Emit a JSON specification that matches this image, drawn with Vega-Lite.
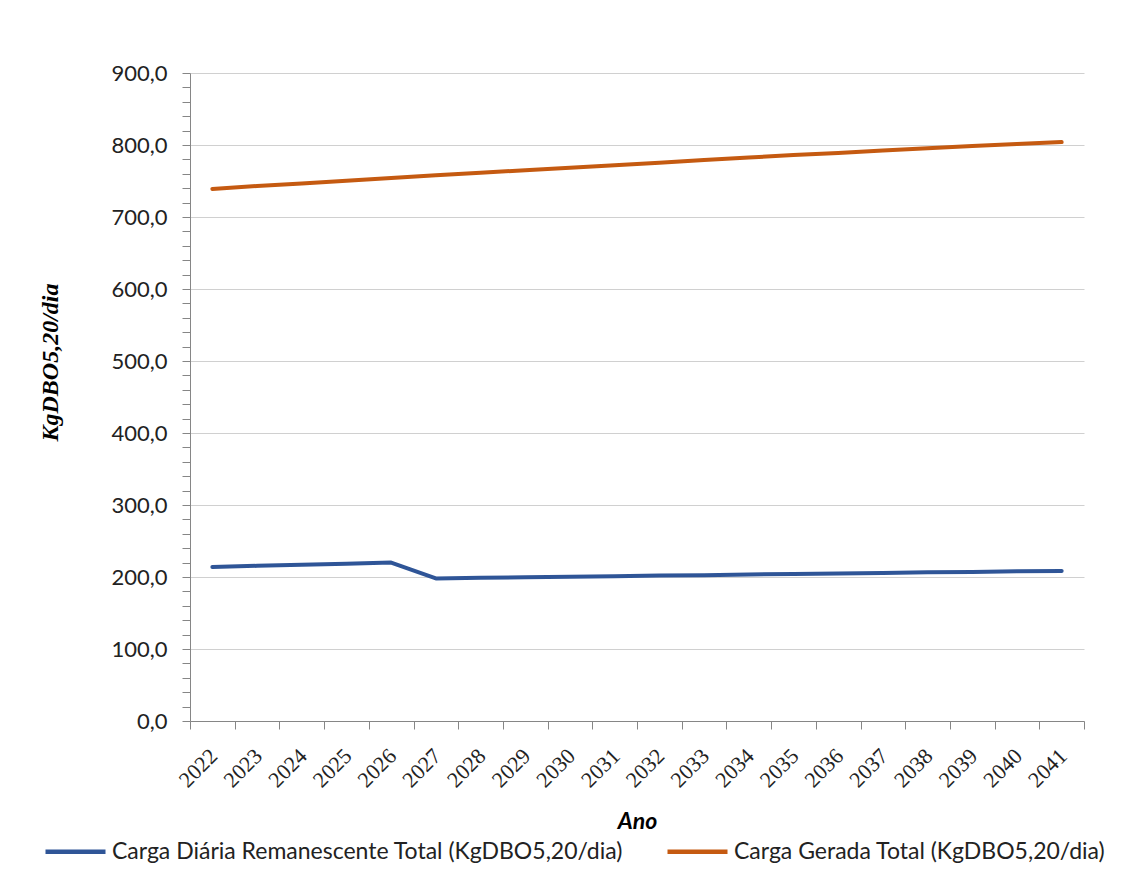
{
  "$schema": "https://vega.github.io/schema/vega-lite/v6.json",
  "width": 894,
  "height": 648,
  "autosize": {"type": "none"},
  "padding": {"left": 190, "top": 73, "right": 48, "bottom": 166},
  "background": "white",
  "config": {
    "view": {"stroke": null},
    "font": "Lato"
  },
  "data": {
    "values": [
      {"ano": "2022", "serie": "Carga Diária Remanescente Total (KgDBO5,20/dia)", "valor": 214.0},
      {"ano": "2023", "serie": "Carga Diária Remanescente Total (KgDBO5,20/dia)", "valor": 215.5},
      {"ano": "2024", "serie": "Carga Diária Remanescente Total (KgDBO5,20/dia)", "valor": 217.0},
      {"ano": "2025", "serie": "Carga Diária Remanescente Total (KgDBO5,20/dia)", "valor": 218.5},
      {"ano": "2026", "serie": "Carga Diária Remanescente Total (KgDBO5,20/dia)", "valor": 220.0},
      {"ano": "2027", "serie": "Carga Diária Remanescente Total (KgDBO5,20/dia)", "valor": 198.0},
      {"ano": "2028", "serie": "Carga Diária Remanescente Total (KgDBO5,20/dia)", "valor": 199.0},
      {"ano": "2029", "serie": "Carga Diária Remanescente Total (KgDBO5,20/dia)", "valor": 199.5},
      {"ano": "2030", "serie": "Carga Diária Remanescente Total (KgDBO5,20/dia)", "valor": 200.5},
      {"ano": "2031", "serie": "Carga Diária Remanescente Total (KgDBO5,20/dia)", "valor": 201.0},
      {"ano": "2032", "serie": "Carga Diária Remanescente Total (KgDBO5,20/dia)", "valor": 202.0},
      {"ano": "2033", "serie": "Carga Diária Remanescente Total (KgDBO5,20/dia)", "valor": 202.5},
      {"ano": "2034", "serie": "Carga Diária Remanescente Total (KgDBO5,20/dia)", "valor": 203.5},
      {"ano": "2035", "serie": "Carga Diária Remanescente Total (KgDBO5,20/dia)", "valor": 204.0},
      {"ano": "2036", "serie": "Carga Diária Remanescente Total (KgDBO5,20/dia)", "valor": 205.0},
      {"ano": "2037", "serie": "Carga Diária Remanescente Total (KgDBO5,20/dia)", "valor": 205.5},
      {"ano": "2038", "serie": "Carga Diária Remanescente Total (KgDBO5,20/dia)", "valor": 206.5},
      {"ano": "2039", "serie": "Carga Diária Remanescente Total (KgDBO5,20/dia)", "valor": 207.0},
      {"ano": "2040", "serie": "Carga Diária Remanescente Total (KgDBO5,20/dia)", "valor": 208.0},
      {"ano": "2041", "serie": "Carga Diária Remanescente Total (KgDBO5,20/dia)", "valor": 208.5},
      {"ano": "2022", "serie": "Carga Gerada Total (KgDBO5,20/dia)", "valor": 739.0},
      {"ano": "2023", "serie": "Carga Gerada Total (KgDBO5,20/dia)", "valor": 743.0},
      {"ano": "2024", "serie": "Carga Gerada Total (KgDBO5,20/dia)", "valor": 746.5},
      {"ano": "2025", "serie": "Carga Gerada Total (KgDBO5,20/dia)", "valor": 750.5},
      {"ano": "2026", "serie": "Carga Gerada Total (KgDBO5,20/dia)", "valor": 754.0},
      {"ano": "2027", "serie": "Carga Gerada Total (KgDBO5,20/dia)", "valor": 758.0},
      {"ano": "2028", "serie": "Carga Gerada Total (KgDBO5,20/dia)", "valor": 761.5},
      {"ano": "2029", "serie": "Carga Gerada Total (KgDBO5,20/dia)", "valor": 765.0},
      {"ano": "2030", "serie": "Carga Gerada Total (KgDBO5,20/dia)", "valor": 768.5},
      {"ano": "2031", "serie": "Carga Gerada Total (KgDBO5,20/dia)", "valor": 772.0},
      {"ano": "2032", "serie": "Carga Gerada Total (KgDBO5,20/dia)", "valor": 775.5},
      {"ano": "2033", "serie": "Carga Gerada Total (KgDBO5,20/dia)", "valor": 779.0},
      {"ano": "2034", "serie": "Carga Gerada Total (KgDBO5,20/dia)", "valor": 782.5},
      {"ano": "2035", "serie": "Carga Gerada Total (KgDBO5,20/dia)", "valor": 786.0},
      {"ano": "2036", "serie": "Carga Gerada Total (KgDBO5,20/dia)", "valor": 789.0},
      {"ano": "2037", "serie": "Carga Gerada Total (KgDBO5,20/dia)", "valor": 792.5},
      {"ano": "2038", "serie": "Carga Gerada Total (KgDBO5,20/dia)", "valor": 795.5},
      {"ano": "2039", "serie": "Carga Gerada Total (KgDBO5,20/dia)", "valor": 798.5},
      {"ano": "2040", "serie": "Carga Gerada Total (KgDBO5,20/dia)", "valor": 801.5},
      {"ano": "2041", "serie": "Carga Gerada Total (KgDBO5,20/dia)", "valor": 804.0}
    ]
  },
  "mark": {"type": "line", "strokeWidth": 4, "strokeCap": "round", "strokeJoin": "round"},
  "encoding": {
    "x": {
      "field": "ano",
      "type": "ordinal",
      "bandPosition": 0.5,
      "scale": {"type": "band", "paddingInner": 0, "paddingOuter": 0},
      "axis": {
        "title": "Ano",
        "titleFont": "Lato",
        "titleFontSize": 23,
        "titleFontWeight": "bold",
        "titleFontStyle": "italic",
        "titleColor": "#000000",
        "titlePadding": 20,
        "labelAngle": -45,
        "labelAlign": "right",
        "labelBaseline": "top",
        "labelFont": "Liberation Serif",
        "labelFontSize": 22,
        "labelColor": "#222222",
        "labelPadding": 16,
        "labelOffset": -6,
        "tickBand": "extent",
        "tickSize": 8,
        "tickColor": "#868686",
        "domainColor": "#868686",
        "grid": false
      }
    },
    "y": {
      "field": "valor",
      "type": "quantitative",
      "scale": {"domain": [0, 900], "nice": false},
      "axis": {
        "title": "KgDBO5,20/dia",
        "titleFont": "Liberation Serif",
        "titleFontSize": 24,
        "titleFontWeight": "bold",
        "titleFontStyle": "italic",
        "titleColor": "#000000",
        "titleX": -128,
        "titleY": 289,
        "titleBaseline": "bottom",
        "values": [0, 20, 40, 60, 80, 100, 120, 140, 160, 180, 200, 220, 240, 260, 280, 300, 320, 340, 360, 380, 400, 420, 440, 460, 480, 500, 520, 540, 560, 580, 600, 620, 640, 660, 680, 700, 720, 740, 760, 780, 800, 820, 840, 860, 880, 900],
        "labelExpr": "datum.value % 100 === 0 ? replace(format(datum.value, '.1f'), '.', ',') : ''",
        "labelFontSize": 22,
        "labelColor": "#222222",
        "labelPadding": 15,
        "tickSize": 8,
        "tickColor": "#868686",
        "domainColor": "#868686",
        "grid": true,
        "gridColor": "#d0d0d0",
        "gridOpacity": {"condition": {"test": "datum.value % 100 === 0", "value": 1}, "value": 0},
        "labelOverlap": false
      }
    },
    "color": {
      "field": "serie",
      "type": "nominal",
      "scale": {
        "domain": ["Carga Diária Remanescente Total (KgDBO5,20/dia)", "Carga Gerada Total (KgDBO5,20/dia)"],
        "range": ["#2F5597", "#C55A11"]
      },
      "legend": {
        "title": null,
        "orient": "none",
        "direction": "horizontal",
        "legendX": -147,
        "legendY": 746,
        "symbolType": "stroke",
        "symbolSize": 3600,
        "symbolStrokeWidth": 4.5,
        "labelFontSize": 23,
        "labelColor": "#222222",
        "labelOffset": 4,
        "columnPadding": 34,
        "labelLimit": 0
      }
    }
  }
}
